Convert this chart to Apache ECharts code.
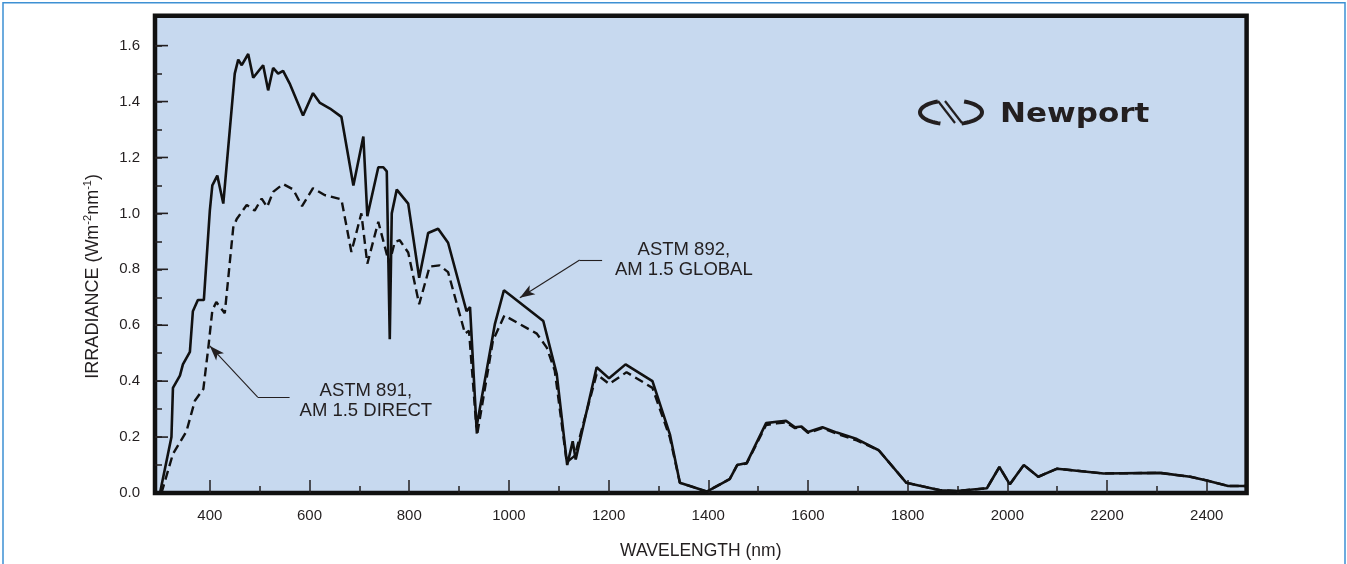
<!DOCTYPE html>
<html>
<head>
<meta charset="utf-8">
<script src="https://cdn.jsdelivr.net/npm/echarts@6/dist/echarts.min.js"></script>
<style>
html,body{margin:0;padding:0;background:#fff;}
#chart{width:1347px;height:564px;}
</style>
</head>
<body>
<div id="chart"></div>
<script>
// ---- data (wavelength nm, irradiance W m-2 nm-1) ----
const globalNm = [300, 323, 326, 340, 346, 360, 366, 376, 388, 400, 405, 415, 427, 450, 457, 464, 477, 487, 507, 517, 527, 537, 547, 560, 587, 607, 621, 641, 664, 688, 708, 716, 738, 748, 755, 761, 765, 775, 798, 820, 838, 858, 878, 915, 922, 935, 972, 990, 1069, 1096, 1117, 1128, 1134, 1176, 1201, 1234, 1288, 1323, 1343, 1397, 1443, 1458, 1477, 1516, 1537, 1556, 1574, 1587, 1600, 1629, 1658, 1698, 1742, 1797, 1865, 1898, 1959, 1984, 2005, 2033, 2062, 2100, 2193, 2306, 2367, 2400, 2443, 2477];
const globalVal = [0, 0.20, 0.376, 0.42, 0.46, 0.505, 0.65, 0.69, 0.69, 1.01, 1.10, 1.135, 1.035, 1.50, 1.55, 1.53, 1.57, 1.485, 1.53, 1.44, 1.52, 1.50, 1.51, 1.465, 1.35, 1.43, 1.395, 1.375, 1.345, 1.10, 1.275, 0.99, 1.165, 1.165, 1.15, 0.55, 1.00, 1.085, 1.035, 0.77, 0.93, 0.945, 0.895, 0.65, 0.665, 0.235, 0.605, 0.725, 0.615, 0.425, 0.10, 0.185, 0.12, 0.45, 0.41, 0.46, 0.40, 0.21, 0.037, 0.005, 0.05, 0.10, 0.107, 0.25, 0.255, 0.258, 0.235, 0.238, 0.218, 0.235, 0.216, 0.193, 0.153, 0.037, 0.01, 0.007, 0.017, 0.093, 0.031, 0.10, 0.058, 0.087, 0.07, 0.072, 0.058, 0.045, 0.025, 0.025];

const directNm = [303, 326, 353, 370, 387, 397, 405, 413, 430, 447, 454, 474, 490, 504, 515, 527, 547, 567, 585, 607, 631, 664, 684, 704, 716, 738, 760, 771, 781, 798, 820, 841, 861, 878, 912, 920, 936, 968, 991, 1056, 1076, 1092, 1116, 1132, 1176, 1201, 1236, 1288, 1323, 1343, 1397, 1443, 1458, 1477, 1516, 1537, 1556, 1574, 1587, 1600, 1629, 1658, 1698, 1742, 1797, 1865, 1898, 1959, 1984, 2005, 2033, 2062, 2100, 2193, 2306, 2367, 2400, 2443, 2477];
const directVal = [0, 0.14, 0.22, 0.33, 0.372, 0.52, 0.653, 0.683, 0.643, 0.95, 0.98, 1.03, 1.01, 1.053, 1.023, 1.077, 1.105, 1.086, 1.026, 1.09, 1.065, 1.05, 0.862, 1.0, 0.82, 0.97, 0.82, 0.898, 0.904, 0.86, 0.675, 0.81, 0.814, 0.79, 0.57, 0.58, 0.205, 0.545, 0.635, 0.57, 0.52, 0.438, 0.11, 0.133, 0.425, 0.39, 0.432, 0.376, 0.198, 0.037, 0.005, 0.05, 0.10, 0.105, 0.243, 0.249, 0.252, 0.232, 0.235, 0.215, 0.232, 0.212, 0.188, 0.153, 0.037, 0.01, 0.007, 0.017, 0.093, 0.031, 0.10, 0.058, 0.087, 0.07, 0.072, 0.058, 0.045, 0.025, 0.025];

const xMajorTicks = [400, 600, 800, 1000, 1200, 1400, 1600, 1800, 2000, 2200, 2400];
const xMinorTicks = [500, 700, 900, 1100, 1300, 1500, 1700, 1900, 2100, 2300];
const yLabels = [0, 0.2, 0.4, 0.6, 0.8, 1.0, 1.2, 1.4, 1.6];
const yMajorTicks = [0.2, 0.4, 0.6, 0.8, 1.0, 1.2, 1.4, 1.6];
const yAllTicks = [0.1, 0.2, 0.3, 0.4, 0.5, 0.6, 0.7, 0.8, 0.9, 1.0, 1.1, 1.2, 1.3, 1.4, 1.5, 1.6];

// annotation anchors in data coordinates
const globalNote = { text: 'ASTM 892,\nAM 1.5 GLOBAL', at: [1351, 0.835], line: [[1187, 0.833], [1142, 0.833]], tip: [1022, 0.698] };
const directNote = { text: 'ASTM 891,\nAM 1.5 DIRECT', at: [713, 0.329], line: [[560, 0.343], [496, 0.343]], tip: [400, 0.526] };

const FONT = '"Liberation Sans", Arial, Helvetica, sans-serif';
const INK = '#231f20';
const X_MIN = 290, X_MAX = 2480, Y_MIN = 0, Y_MAX = 1.707;

const zip = (a, b) => a.map((v, i) => [v, b[i]]);

function noteLines(n) {
  return [
    [{ coord: n.line[0], symbol: 'none' }, { coord: n.line[1], symbol: 'none' }],
    [{ coord: n.line[1], symbol: 'none' }, { coord: n.tip, symbol: 'arrow', symbolSize: [8, 15] }]
  ];
}

// logo arc helper (decoration only)
function ellArc(cx, cy, rx, ry, a0, a1) {
  const pts = [];
  const n = 24;
  for (let i = 0; i <= n; i++) {
    const t = (a0 + (a1 - a0) * i / n) * Math.PI / 180;
    pts.push([cx + rx * Math.cos(t), cy + ry * Math.sin(t)]);
  }
  return pts;
}

function tickAxis(kind, values, len) {
  return {
    type: 'value',
    min: kind === 'x' ? X_MIN : Y_MIN,
    max: kind === 'x' ? X_MAX : Y_MAX,
    position: kind === 'x' ? 'bottom' : 'left',
    axisLine: { show: false, onZero: false },
    axisTick: { show: true, inside: true, length: len, customValues: values, lineStyle: { color: INK, width: 1.5 } },
    axisLabel: { show: false },
    splitLine: { show: false }
  };
}

const chart = echarts.init(document.getElementById('chart'), null, { renderer: 'canvas' });

chart.setOption({
  animation: false,
  backgroundColor: '#ffffff',
  textStyle: { fontFamily: FONT },
  grid: {
    left: 155, right: 100.4, top: 15.7, bottom: 71,
    show: true, backgroundColor: '#c7d9ef', borderColor: '#111', borderWidth: 4.5,
    containLabel: false, outerBoundsMode: 'none'
  },
  xAxis: [
    {
      type: 'value', min: X_MIN, max: X_MAX, position: 'bottom',
      name: 'WAVELENGTH (nm)', nameLocation: 'middle', nameGap: 49,
      nameTextStyle: { fontSize: 17.5, color: INK, fontFamily: FONT },
      axisLine: { show: false, onZero: false },
      axisTick: { show: false },
      axisLabel: { show: true, customValues: xMajorTicks, margin: 15, fontSize: 15, color: INK, fontFamily: FONT,
        formatter: v => String(Math.round(v)) },
      splitLine: { show: false }
    },
    tickAxis('x', xMajorTicks, 13),
    tickAxis('x', xMinorTicks, 7)
  ],
  yAxis: [
    {
      type: 'value', min: Y_MIN, max: Y_MAX, position: 'left',
      name: 'IRRADIANCE (Wm{sup|-2}nm{sup|-1})', nameLocation: 'middle', nameGap: 51,
      nameTextStyle: {
        fontSize: 18, color: INK, fontFamily: FONT, lineHeight: 22, padding: [0, 44, 0, 0],
        rich: { sup: { fontSize: 11, color: INK, fontFamily: FONT, verticalAlign: 'top', lineHeight: 13, padding: [0, 0, 7, 0] } }
      },
      axisLine: { show: false, onZero: false },
      axisTick: { show: false },
      axisLabel: { show: true, customValues: yLabels, margin: 15, fontSize: 15, color: INK, fontFamily: FONT,
        formatter: v => v.toFixed(1) },
      splitLine: { show: false }
    },
    tickAxis('y', yAllTicks, 7)
  ],
  series: [
    {
      name: 'ASTM 891, AM 1.5 DIRECT', type: 'line', xAxisIndex: 0, yAxisIndex: 0,
      data: zip(directNm, directVal), showSymbol: false, symbol: 'none', silent: true,
      lineStyle: { color: '#111', width: 2.4, type: [9, 5] }, z: 2
    },
    {
      name: 'ASTM 892, AM 1.5 GLOBAL', type: 'line', xAxisIndex: 0, yAxisIndex: 0,
      data: zip(globalNm, globalVal), showSymbol: false, symbol: 'none', silent: true,
      lineStyle: { color: '#111', width: 2.6, type: 'solid' }, z: 3,
      markLine: {
        silent: true, animation: false,
        label: { show: false },
        lineStyle: { color: INK, width: 1.1, type: 'solid' },
        emphasis: { disabled: true },
        data: noteLines(globalNote).concat(noteLines(directNote))
      },
      markPoint: {
        silent: true, animation: false, symbol: 'circle', symbolSize: 0,
        label: { show: true, position: 'inside', fontSize: 18.5, lineHeight: 20, color: INK, fontFamily: FONT, align: 'center' },
        data: [
          { coord: globalNote.at, label: { formatter: globalNote.text } },
          { coord: directNote.at, label: { formatter: directNote.text } }
        ]
      }
    }
  ]
});

// longer major y ticks placed through the y scale
const x0 = chart.convertToPixel({ xAxisIndex: 0 }, X_MIN);
const yTickEls = yMajorTicks.map(v => {
  const py = chart.convertToPixel({ yAxisIndex: 0 }, v);
  return { type: 'line', silent: true, z: 60,
    shape: { x1: x0, y1: py, x2: x0 + 13, y2: py },
    style: { stroke: INK, lineWidth: 1.6 } };
});

chart.setOption({
  graphic: [
    { type: 'rect', silent: true, shape: { x: 3, y: 2.7, width: 1342, height: 620 },
      style: { fill: 'none', stroke: '#3d90d3', lineWidth: 1.5 }, z: 100 },
    // Newport logo
    { type: 'polyline', silent: true, shape: { points: ellArc(951, 112.3, 31, 12, 110, 245) },
      style: { fill: 'none', stroke: INK, lineWidth: 4 }, z: 50 },
    { type: 'polyline', silent: true, shape: { points: ellArc(951, 112.3, 31, 12, -65, 70) },
      style: { fill: 'none', stroke: INK, lineWidth: 4 }, z: 50 },
    { type: 'line', silent: true, shape: { x1: 938, y1: 101, x2: 955, y2: 123 },
      style: { stroke: INK, lineWidth: 2.2 }, z: 50 },
    { type: 'line', silent: true, shape: { x1: 945, y1: 101, x2: 962, y2: 123 },
      style: { stroke: INK, lineWidth: 2.2 }, z: 50 },
    { type: 'text', silent: true, x: 1000, y: 115.3, scaleX: 1.15, z: 50,
      style: { x: 0, y: 0, text: 'Newport', font: 'bold 27px "DejaVu Sans", sans-serif', fill: INK, verticalAlign: 'middle', align: 'left' } }
  ].concat(yTickEls)
});
</script>
</body>
</html>
